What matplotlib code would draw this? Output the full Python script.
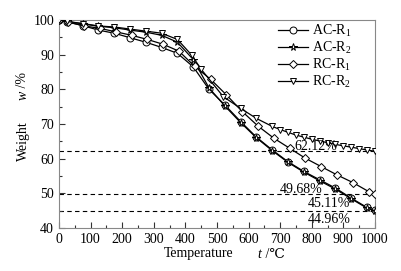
import matplotlib
matplotlib.use("Agg")
import matplotlib.pyplot as plt
from matplotlib.ticker import MultipleLocator

plt.rcParams['font.family'] = ['Liberation Serif', 'DejaVu Serif']
plt.rcParams['mathtext.fontset'] = 'custom'
plt.rcParams['mathtext.rm'] = 'Liberation Serif'
plt.rcParams['mathtext.it'] = 'Liberation Serif:italic'

# AC-R1 (circles)
t_ac1 = [0, 25, 75, 125, 175, 225, 275, 325, 375, 425, 475, 525, 575, 625, 675, 725, 775, 825, 875, 925, 975, 1000]
w_ac1 = [100, 99.5, 98.4, 97.1, 96.2, 94.9, 93.6, 92.1, 90.4, 86.5, 80.0, 75.5, 70.7, 66.2, 62.5, 59.1, 56.3, 53.9, 51.5, 48.6, 45.9, 45.11]
# AC-R2 (stars)
t_ac2 = [0, 25, 75, 125, 175, 225, 275, 325, 375, 425, 475, 525, 575, 625, 675, 725, 775, 825, 875, 925, 975, 1000]
w_ac2 = [100, 99.6, 98.9, 98.2, 97.8, 97.1, 96.5, 95.6, 93.6, 88.6, 80.4, 75.2, 70.4, 66.0, 62.3, 58.9, 56.1, 53.6, 51.2, 48.4, 45.7, 44.96]
# RC-R1 (diamonds)
t_rc1 = [0, 30, 80, 130, 180, 230, 280, 330, 380, 430, 480, 530, 580, 630, 680, 730, 780, 830, 880, 930, 980, 1000]
w_rc1 = [100, 99.4, 98.3, 97.6, 96.6, 95.6, 94.4, 93.0, 91.0, 86.6, 82.9, 78.4, 73.6, 69.4, 65.9, 63.0, 60.1, 57.7, 55.3, 53.1, 50.5, 49.68]
# RC-R2 (triangles)
t_rc2 = [0, 25, 75, 125, 175, 225, 275, 325, 375, 420, 450, 520, 575, 625, 675, 700, 725, 750, 775, 800, 825, 850, 875, 900, 925, 950, 975, 1000]
w_rc2 = [100, 99.6, 99.0, 98.3, 98.0, 97.4, 96.8, 96.2, 94.4, 89.9, 85.8, 77.9, 74.5, 71.6, 69.3, 68.4, 67.6, 66.8, 66.2, 65.6, 65.1, 64.6, 64.1, 63.7, 63.3, 62.9, 62.5, 62.12]

ref_levels = [62.12, 49.68, 45.0]
ann_text = ["62.12%", "49.68%", "45.11%", "44.96%"]
ann_x = [812, 765, 855, 855]
ann_y = [62.4, 50.0, 45.9, 41.4]

fig = plt.figure(figsize=(4.01, 2.71), dpi=100)
ax = fig.add_axes([0.147, 0.159, 0.788, 0.767])

for y in ref_levels:
    ax.axhline(y, color='black', lw=0.8, ls=(0, (4, 3)), zorder=1)

common = dict(color='black', lw=0.9, markersize=5, markerfacecolor='white', markeredgewidth=0.7, zorder=3)
ax.plot(t_ac1, w_ac1, marker='o', label='AC-R$_1$', **common)
ax.plot(t_ac2, w_ac2, marker='*', label='AC-R$_2$', **{**common, 'markersize': 5.5})
ax.plot(t_rc1, w_rc1, marker='D', label='RC-R$_1$', **{**common, 'markersize': 4})
ax.plot(t_rc2, w_rc2, marker='v', label='RC-R$_2$', **common)

for s, x, y in zip(ann_text, ann_x, ann_y):
    ax.text(x, y, s, fontsize=10, ha='center', va='baseline', zorder=4)

ax.set_xlim(0, 1000)
ax.set_ylim(40, 100)
ax.xaxis.set_major_locator(MultipleLocator(100))
ax.xaxis.set_minor_locator(MultipleLocator(50))
ax.yaxis.set_major_locator(MultipleLocator(10))
ax.yaxis.set_minor_locator(MultipleLocator(5))
ax.tick_params(which='both', direction='in', top=False, right=False, labelsize=10, width=0.8, colors='#333333', labelcolor='black')
ax.tick_params(which='major', length=4)
ax.tick_params(which='minor', length=2)
for sp in ax.spines.values():
    sp.set_color('#888888')
    sp.set_linewidth(0.8)

W, H = 401.0, 271.0
# x-axis label pieces
fig.text(199 / W, 1 - 254 / H, 'Temperature', fontsize=10, ha='center', va='center')
fig.text(259 / W, 1 - 254 / H, 't', fontsize=10, style='italic', ha='center', va='center')
fig.text(262 / W, 1 - 254 / H, ' /\u2103', fontsize=10, ha='left', va='center')
# y-axis label pieces
fig.text(23 / W, 1 - 141 / H, 'Weight', fontsize=10, rotation=90, ha='center', va='center')
fig.text(23 / W, 1 - 95 / H, 'w', fontsize=10, style='italic', rotation=90, ha='center', va='center')
fig.text(23 / W, 1 - 91 / H, ' /%', fontsize=10, rotation=90, ha='center', va='bottom')

leg = ax.legend(loc='upper left', bbox_to_anchor=((278 - 59) / 316, 0.985), frameon=False, fontsize=10,
                handlelength=2.2, labelspacing=0.05, borderaxespad=0, borderpad=0, handletextpad=0.25)

fig.savefig('out.png', dpi=100)
